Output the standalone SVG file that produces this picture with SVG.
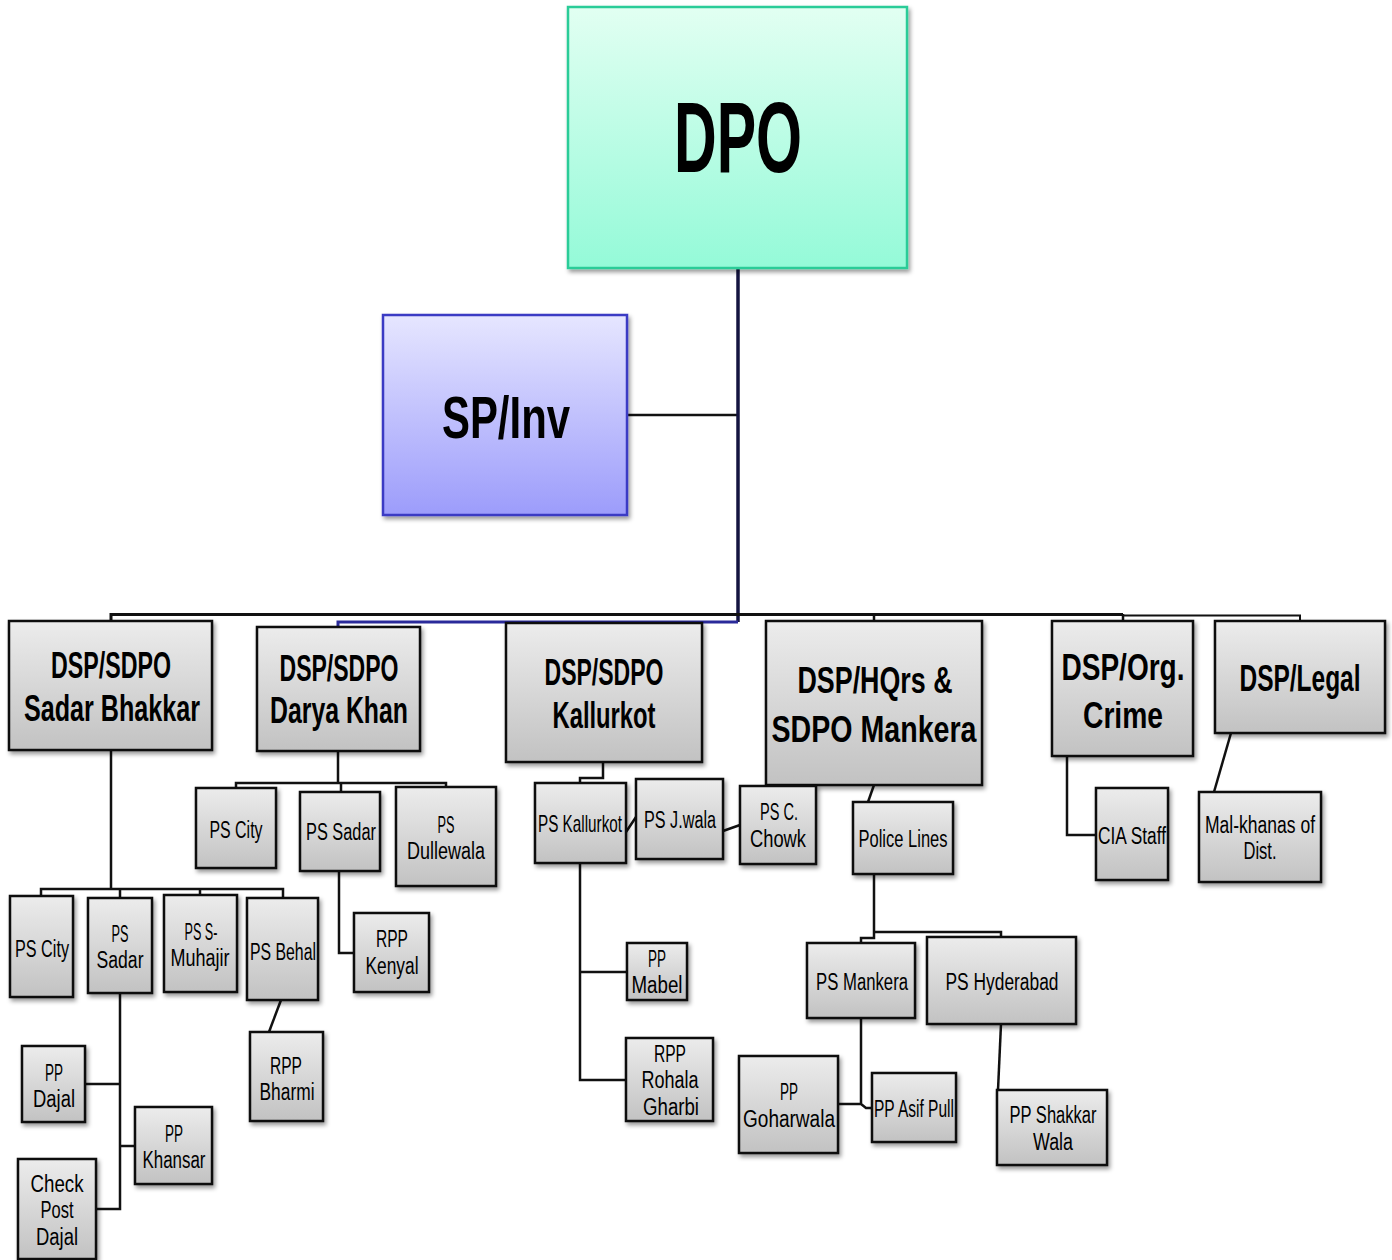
<svg xmlns="http://www.w3.org/2000/svg" width="1392" height="1260" viewBox="0 0 1392 1260">
<defs>
<linearGradient id="gGray" x1="0" y1="0" x2="0" y2="1"><stop offset="0" stop-color="#ececec"/><stop offset="1" stop-color="#c2c2c2"/></linearGradient>
<linearGradient id="gGreen" x1="0" y1="0" x2="0" y2="1"><stop offset="0" stop-color="#e2fff2"/><stop offset="1" stop-color="#94fad8"/></linearGradient>
<linearGradient id="gBlue" x1="0" y1="0" x2="0" y2="1"><stop offset="0" stop-color="#e6e6ff"/><stop offset="1" stop-color="#9c9cfb"/></linearGradient>
<filter id="sh" x="-10%" y="-10%" width="130%" height="130%"><feDropShadow dx="2" dy="3" stdDeviation="2" flood-color="#000" flood-opacity="0.4"/></filter>
<style>
.b{fill:url(#gGray);stroke:#111;stroke-width:2.5;filter:url(#sh)}
.t{font-family:"Liberation Sans",Arial,sans-serif;font-size:23px;fill:#000;text-anchor:middle}
.h{font-family:"Liberation Sans",Arial,sans-serif;font-size:36px;font-weight:bold;fill:#000;text-anchor:middle}
.c{fill:none;stroke:#111;stroke-width:2.5}
</style>
</defs>
<g id="connectors">
<path class="c" d="M627,415 H738"/>
<path d="M738,268 V622" stroke="#141440" stroke-width="3.5" fill="none"/>
<path d="M338,627 V622 H738" stroke="#2a2a9a" stroke-width="3" fill="none"/>
<path d="M111,621 V614.5 H1123" stroke="#111" stroke-width="3" fill="none"/>
<path class="c" d="M874,614 V621 M1123,614 V621"/>
<path d="M1123,615.5 H1300 V621" stroke="#111" stroke-width="2" fill="none"/>
<path class="c" d="M111,750 V889 M41,896 V889 H283 V897 M120,889 V898 M200,889 V895"/>
<path class="c" d="M120,993 V1209 H96 M85,1084 H120 M120,1146 H135"/>
<path class="c" d="M281,1000 L269,1032"/>
<path class="c" d="M338,751 V783 M236,788 V783 H446 V787 M341,783 V792"/>
<path class="c" d="M339,871 V953 H354"/>
<path class="c" d="M603,762 V778 H580 V783"/>
<path class="c" d="M580,863 V1080 H626 M580,972 H627"/>
<path class="c" d="M626,832 L636,817 M723,831 L740,825"/>
<path class="c" d="M874,785 L868,802"/>
<path class="c" d="M874,874 V932 H1001 V937 M874,932 V938 H861 V943"/>
<path class="c" d="M861,1018 V1104 H838 M861,1104 L866,1108 H872"/>
<path class="c" d="M1001,1024 L998,1090"/>
<path class="c" d="M1067,756 V835 H1096"/>
<path class="c" d="M1231,733 L1214,792"/>
</g>
<g id="dpo"><rect x="568" y="7" width="339" height="261" fill="url(#gGreen)" stroke="#2ccc98" stroke-width="2.5" filter="url(#sh)"/><text x="738" y="172" font-family="Liberation Sans,Arial,sans-serif" font-size="100" font-weight="bold" text-anchor="middle" textLength="128" lengthAdjust="spacingAndGlyphs">DPO</text></g>
<g id="spinv"><rect x="383" y="315" width="244" height="200" fill="url(#gBlue)" stroke="#3b3bc4" stroke-width="2.5" filter="url(#sh)"/><text x="506" y="438" font-family="Liberation Sans,Arial,sans-serif" font-size="60" font-weight="bold" text-anchor="middle" textLength="128" lengthAdjust="spacingAndGlyphs">SP/Inv</text></g>
<g id="dsp-sadar-bhakkar"><rect class="b" x="9" y="621" width="203" height="129"/><text class="h" x="111" y="678" textLength="120" lengthAdjust="spacingAndGlyphs">DSP/SDPO</text><text class="h" x="112" y="721" textLength="176" lengthAdjust="spacingAndGlyphs">Sadar Bhakkar</text></g>
<g id="dsp-darya-khan"><rect class="b" x="257" y="627" width="163" height="124"/><text class="h" x="339" y="681" textLength="119" lengthAdjust="spacingAndGlyphs">DSP/SDPO</text><text class="h" x="339" y="723" textLength="138" lengthAdjust="spacingAndGlyphs">Darya Khan</text></g>
<g id="dsp-kallurkot"><rect class="b" x="506" y="623" width="196" height="139"/><text class="h" x="604" y="685" textLength="119" lengthAdjust="spacingAndGlyphs">DSP/SDPO</text><text class="h" x="604" y="728" textLength="103" lengthAdjust="spacingAndGlyphs">Kallurkot</text></g>
<g id="dsp-hqrs"><rect class="b" x="766" y="621" width="216" height="164"/><text class="h" x="875" y="693" font-size="39" textLength="155" lengthAdjust="spacingAndGlyphs">DSP/HQrs &amp;</text><text class="h" x="874" y="742" font-size="39" textLength="205" lengthAdjust="spacingAndGlyphs">SDPO Mankera</text></g>
<g id="dsp-org-crime"><rect class="b" x="1052" y="621" width="141" height="135"/><text class="h" x="1123" y="680" font-size="39" textLength="123" lengthAdjust="spacingAndGlyphs">DSP/Org.</text><text class="h" x="1123" y="728" font-size="39" textLength="80" lengthAdjust="spacingAndGlyphs">Crime</text></g>
<g id="dsp-legal"><rect class="b" x="1215" y="621" width="170" height="112"/><text class="h" transform="translate(1300,691) scale(0.68,1)" x="0" y="0" textLength="178" lengthAdjust="spacingAndGlyphs">DSP/Legal</text></g>
<g id="sb-ps-city"><rect class="b" x="10" y="896" width="63" height="101"/><text class="t" x="42" y="957" textLength="54" lengthAdjust="spacingAndGlyphs">PS City</text></g>
<g id="sb-ps-sadar"><rect class="b" x="88" y="898" width="64" height="95"/><text class="t" x="120" y="942" textLength="17" lengthAdjust="spacingAndGlyphs">PS</text><text class="t" x="120" y="968" textLength="47" lengthAdjust="spacingAndGlyphs">Sadar</text></g>
<g id="sb-ps-muhajir"><rect class="b" x="164" y="895" width="73" height="97"/><text class="t" x="201" y="940" textLength="33" lengthAdjust="spacingAndGlyphs">PS S-</text><text class="t" x="200" y="966" textLength="59" lengthAdjust="spacingAndGlyphs">Muhajir</text></g>
<g id="sb-ps-behal"><rect class="b" x="247" y="898" width="71" height="102"/><text class="t" x="283" y="960" textLength="66" lengthAdjust="spacingAndGlyphs">PS Behal</text></g>
<g id="pp-dajal"><rect class="b" x="22" y="1046" width="63" height="76"/><text class="t" x="54" y="1081" textLength="18" lengthAdjust="spacingAndGlyphs">PP</text><text class="t" x="54" y="1107" textLength="42" lengthAdjust="spacingAndGlyphs">Dajal</text></g>
<g id="pp-khansar"><rect class="b" x="135" y="1107" width="77" height="77"/><text class="t" x="174" y="1142" textLength="18" lengthAdjust="spacingAndGlyphs">PP</text><text class="t" x="174" y="1168" textLength="63" lengthAdjust="spacingAndGlyphs">Khansar</text></g>
<g id="check-post-dajal"><rect class="b" x="18" y="1159" width="78" height="100"/><text class="t" x="57" y="1192" textLength="53" lengthAdjust="spacingAndGlyphs">Check</text><text class="t" x="57" y="1218" textLength="33" lengthAdjust="spacingAndGlyphs">Post</text><text class="t" x="57" y="1245" textLength="42" lengthAdjust="spacingAndGlyphs">Dajal</text></g>
<g id="rpp-bharmi"><rect class="b" x="250" y="1032" width="73" height="89"/><text class="t" x="286" y="1074" textLength="32" lengthAdjust="spacingAndGlyphs">RPP</text><text class="t" x="287" y="1100" textLength="55" lengthAdjust="spacingAndGlyphs">Bharmi</text></g>
<g id="dk-ps-city"><rect class="b" x="196" y="788" width="80" height="80"/><text class="t" x="236" y="838" textLength="53" lengthAdjust="spacingAndGlyphs">PS City</text></g>
<g id="dk-ps-sadar"><rect class="b" x="300" y="792" width="80" height="79"/><text class="t" x="341" y="840" textLength="70" lengthAdjust="spacingAndGlyphs">PS Sadar</text></g>
<g id="ps-dullewala"><rect class="b" x="396" y="787" width="100" height="99"/><text class="t" x="446" y="833" textLength="17" lengthAdjust="spacingAndGlyphs">PS</text><text class="t" x="446" y="859" textLength="78" lengthAdjust="spacingAndGlyphs">Dullewala</text></g>
<g id="rpp-kenyal"><rect class="b" x="354" y="913" width="75" height="79"/><text class="t" x="392" y="947" textLength="32" lengthAdjust="spacingAndGlyphs">RPP</text><text class="t" x="392" y="974" textLength="53" lengthAdjust="spacingAndGlyphs">Kenyal</text></g>
<g id="ps-kallurkot"><rect class="b" x="535" y="783" width="91" height="80"/><text class="t" transform="translate(580,832) scale(0.667,1)" x="0" y="0" textLength="126" lengthAdjust="spacingAndGlyphs">PS Kallurkot</text></g>
<g id="ps-jwala"><rect class="b" x="636" y="779" width="87" height="80"/><text class="t" x="680" y="828" textLength="72" lengthAdjust="spacingAndGlyphs">PS J.wala</text></g>
<g id="ps-c-chowk"><rect class="b" x="740" y="786" width="76" height="78"/><text class="t" x="779" y="820" textLength="38" lengthAdjust="spacingAndGlyphs">PS C.</text><text class="t" x="778" y="847" textLength="56" lengthAdjust="spacingAndGlyphs">Chowk</text></g>
<g id="pp-mabel"><rect class="b" x="627" y="943" width="60" height="57"/><text class="t" x="657" y="967" textLength="18" lengthAdjust="spacingAndGlyphs">PP</text><text class="t" x="657" y="993" textLength="51" lengthAdjust="spacingAndGlyphs">Mabel</text></g>
<g id="rpp-rohala-gharbi"><rect class="b" x="626" y="1038" width="87" height="83"/><text class="t" x="670" y="1062" textLength="32" lengthAdjust="spacingAndGlyphs">RPP</text><text class="t" x="670" y="1088" textLength="57" lengthAdjust="spacingAndGlyphs">Rohala</text><text class="t" x="671" y="1115" textLength="56" lengthAdjust="spacingAndGlyphs">Gharbi</text></g>
<g id="police-lines"><rect class="b" x="853" y="802" width="100" height="72"/><text class="t" x="903" y="847" textLength="89" lengthAdjust="spacingAndGlyphs">Police Lines</text></g>
<g id="ps-mankera"><rect class="b" x="807" y="943" width="108" height="75"/><text class="t" x="862" y="990" textLength="92" lengthAdjust="spacingAndGlyphs">PS Mankera</text></g>
<g id="ps-hyderabad"><rect class="b" x="927" y="937" width="149" height="87"/><text class="t" x="1002" y="990" textLength="113" lengthAdjust="spacingAndGlyphs">PS Hyderabad</text></g>
<g id="pp-goharwala"><rect class="b" x="739" y="1056" width="99" height="97"/><text class="t" x="789" y="1100" textLength="18" lengthAdjust="spacingAndGlyphs">PP</text><text class="t" x="789" y="1127" textLength="92" lengthAdjust="spacingAndGlyphs">Goharwala</text></g>
<g id="pp-asif-pull"><rect class="b" x="872" y="1073" width="84" height="69"/><text class="t" x="914" y="1117" textLength="80" lengthAdjust="spacingAndGlyphs">PP Asif Pull</text></g>
<g id="pp-shakkar-wala"><rect class="b" x="997" y="1090" width="110" height="75"/><text class="t" x="1053" y="1123" textLength="87" lengthAdjust="spacingAndGlyphs">PP Shakkar</text><text class="t" x="1053" y="1150" textLength="40" lengthAdjust="spacingAndGlyphs">Wala</text></g>
<g id="cia-staff"><rect class="b" x="1096" y="788" width="72" height="92"/><text class="t" x="1132" y="844" textLength="68" lengthAdjust="spacingAndGlyphs">CIA Staff</text></g>
<g id="mal-khanas"><rect class="b" x="1199" y="792" width="122" height="90"/><text class="t" x="1260" y="833" textLength="110" lengthAdjust="spacingAndGlyphs">Mal-khanas of</text><text class="t" x="1260" y="859" textLength="33" lengthAdjust="spacingAndGlyphs">Dist.</text></g>
</svg>
